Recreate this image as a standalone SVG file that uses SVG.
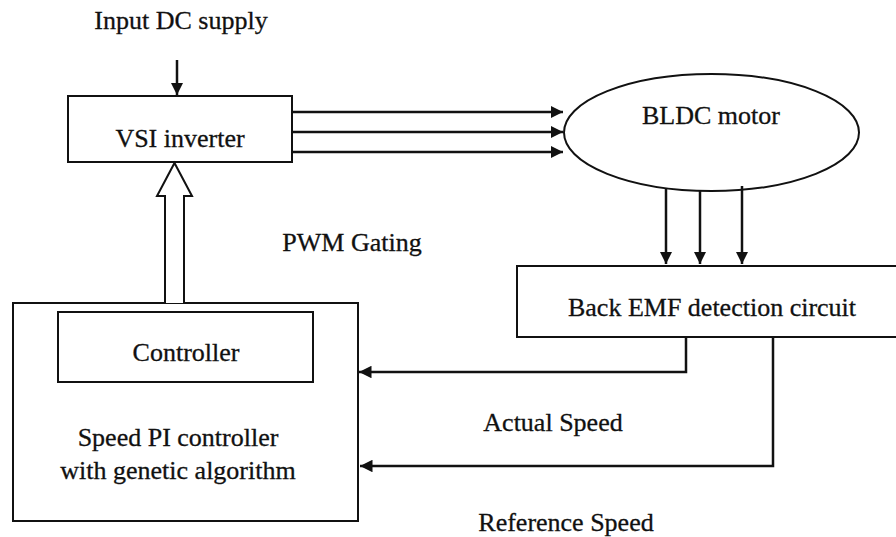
<svg xmlns="http://www.w3.org/2000/svg" width="896" height="537" viewBox="0 0 896 537">
<style>
.box{fill:#fff;stroke:#111;stroke-width:2}
.ln{fill:none;stroke:#111;stroke-width:2.5}
.t{font-family:'Liberation Serif','Times New Roman',serif;font-size:26px;fill:#111;text-anchor:middle;stroke:#111;stroke-width:0.3}
</style>
<defs>
<marker id="ah" viewBox="0 0 10 10" refX="10" refY="5" markerWidth="5" markerHeight="5" orient="auto" markerUnits="strokeWidth"><path d="M0,0 L10,5 L0,10 z" fill="#111"/></marker>
</defs>
<rect width="896" height="537" fill="#fff"/>
<text class="t" x="181" y="29">Input DC supply</text>
<g id="vsi"><rect class="box" x="68" y="96" width="224" height="66"/><text class="t" x="180" y="147">VSI inverter</text></g>
<g id="motor"><ellipse class="box" cx="711.5" cy="132.5" rx="147.5" ry="58.5"/><text class="t" x="711" y="124">BLDC motor</text></g>
<g id="bemf"><rect class="box" x="517" y="266" width="382" height="71"/><text class="t" x="712" y="316">Back EMF detection circuit</text></g>
<g id="pi"><rect class="box" x="13" y="303" width="345" height="218"/>
<rect class="box" x="58" y="312" width="255" height="70"/>
<text class="t" x="186" y="361">Controller</text>
<text class="t" x="178" y="446">Speed PI controller</text>
<text class="t" x="178" y="479">with genetic algorithm</text></g>
<g id="labels">
<text class="t" x="352" y="251">PWM Gating</text>
<text class="t" x="553" y="431">Actual Speed</text>
<text class="t" x="566" y="531">Reference Speed</text>
</g>
<g id="connectors">
<line class="ln" x1="177" y1="60" x2="177" y2="95" marker-end="url(#ah)"/>
<line class="ln" x1="292" y1="112" x2="563" y2="112" marker-end="url(#ah)"/>
<line class="ln" x1="292" y1="132" x2="563" y2="132" marker-end="url(#ah)"/>
<line class="ln" x1="292" y1="152" x2="563" y2="152" marker-end="url(#ah)"/>
<line class="ln" x1="666" y1="188" x2="666" y2="264" marker-end="url(#ah)"/>
<line class="ln" x1="700" y1="190.5" x2="700" y2="264" marker-end="url(#ah)"/>
<line class="ln" x1="742" y1="186" x2="742" y2="264" marker-end="url(#ah)"/>
<polyline class="ln" points="686,337 686,372 359,372" marker-end="url(#ah)"/>
<polyline class="ln" points="773,337 773,466 360,466" marker-end="url(#ah)"/>
<path d="M165,303 L165,196 L157,196 L174.5,163 L192,196 L184,196 L184,303" fill="#fff" stroke="#111" stroke-width="2" stroke-linejoin="miter"/>
</g>
</svg>
